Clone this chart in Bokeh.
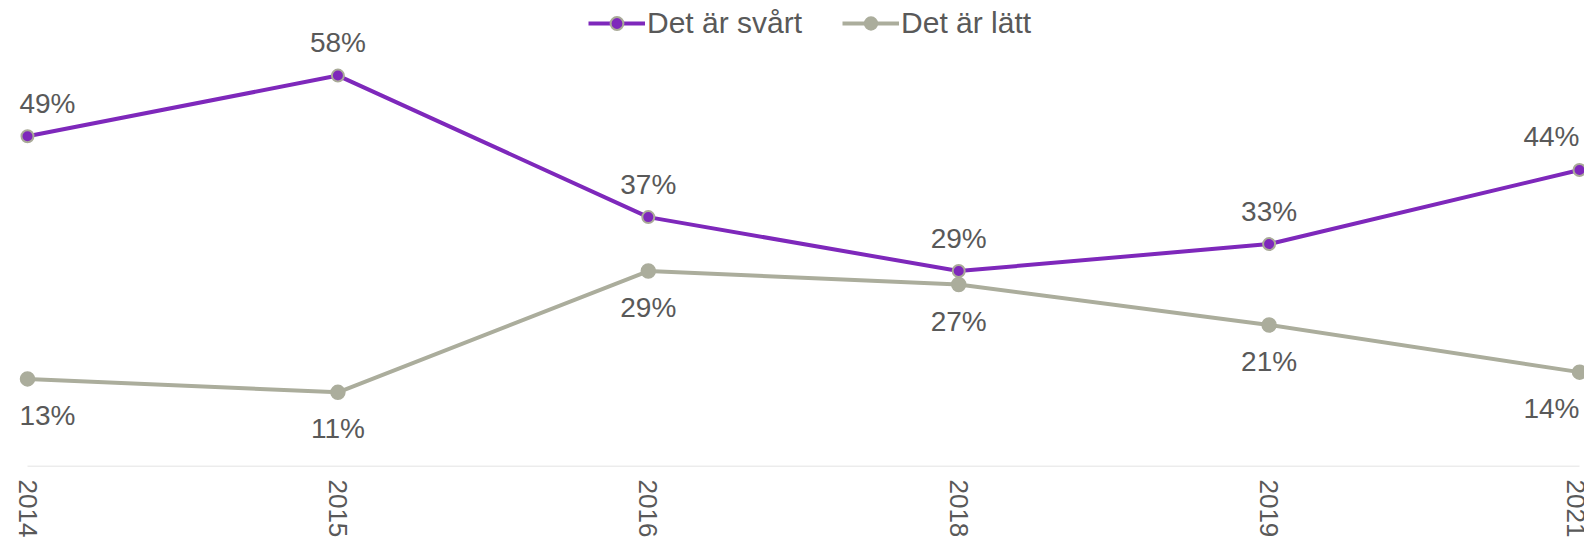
import math
from bokeh.plotting import figure
from bokeh.models import ColumnDataSource, FixedTicker, Range1d, Legend, LegendItem
from bokeh.core.properties import value
from bokeh.embed import file_html
from bokeh.resources import INLINE

years = ["2014", "2015", "2016", "2018", "2019", "2021"]
svart = [49, 58, 37, 29, 33, 44]
latt = [13, 11, 29, 27, 21, 14]
series_names = ["Det är svårt", "Det är lätt"]

PURPLE = "#7E28BB"
GRAY = "#ABAD9C"
TEXT = "#595959"
FONT = "Liberation Sans"

W, H = 1584, 541
x = list(range(len(years)))

p = figure(width=W, height=H, output_backend="svg", toolbar_location=None,
           x_range=Range1d(-27 / 310.4, 5 + 5 / 310.4), y_range=Range1d(0, 69.14),
           min_border_left=0, min_border_right=0, min_border_top=0, min_border_bottom=75)
p.outline_line_color = None
p.grid.visible = False
p.yaxis.visible = False
p.background_fill_color = None
p.border_fill_color = None

ax = p.xaxis[0]
ax.ticker = FixedTicker(ticks=x)
ax.major_label_overrides = {i: y for i, y in enumerate(years)}
ax.major_label_orientation = -math.pi / 2
ax.major_tick_line_color = None
ax.major_tick_out = 0
ax.major_tick_in = 0
ax.minor_tick_line_color = None
ax.minor_tick_out = 0
ax.minor_tick_in = 0
ax.axis_line_color = None
ax.major_label_text_font = FONT
ax.major_label_text_font_size = "26px"
ax.major_label_text_color = TEXT
ax.major_label_standoff = 13

# axis baseline from first to last category
p.segment(x0=[x[0]], y0=[0], x1=[x[-1]], y1=[0], line_color="#D9D9D9", line_width=1.5)

src1 = ColumnDataSource(dict(x=x, y=svart, lab=[f"{v}%" for v in svart],
                             xo=[20, 0, 0, 0, 0, -28], yo=[-33] * 6))
src2 = ColumnDataSource(dict(x=x, y=latt, lab=[f"{v}%" for v in latt],
                             xo=[20, 0, 0, 0, 0, -28], yo=[21] * 6))

l2 = p.line("x", "y", source=src2, line_color=GRAY, line_width=4)
s2 = p.scatter("x", "y", source=src2, size=14, fill_color=GRAY, line_color=GRAY, line_width=1.5)
l1 = p.line("x", "y", source=src1, line_color=PURPLE, line_width=4)
s1 = p.scatter("x", "y", source=src1, size=12, fill_color=PURPLE, line_color="#A9AA98", line_width=2)

p.text("x", "y", text="lab", source=src1, x_offset="xo", y_offset="yo",
       text_font=value(FONT), text_font_size="28px", text_color=TEXT,
       text_align="center", text_baseline="alphabetic")
p.text("x", "y", text="lab", source=src2, x_offset="xo", y_offset="yo",
       text_font=value(FONT), text_font_size="28px", text_color=TEXT,
       text_align="center", text_baseline="top")

legend = Legend(items=[LegendItem(label=series_names[0], renderers=[l1, s1]),
                       LegendItem(label=series_names[1], renderers=[l2, s2])],
                location=(588, 426), orientation="horizontal")
legend.label_text_font = FONT
legend.label_text_font_size = "30px"
legend.label_text_color = TEXT
legend.glyph_width = 57
legend.glyph_height = 32
legend.label_height = 32
legend.label_standoff = 2
legend.spacing = 40
legend.margin = 0
legend.padding = 0
legend.border_line_color = None
legend.background_fill_alpha = 0
p.add_layout(legend)

open("out.html", "w").write(file_html(p, INLINE))
